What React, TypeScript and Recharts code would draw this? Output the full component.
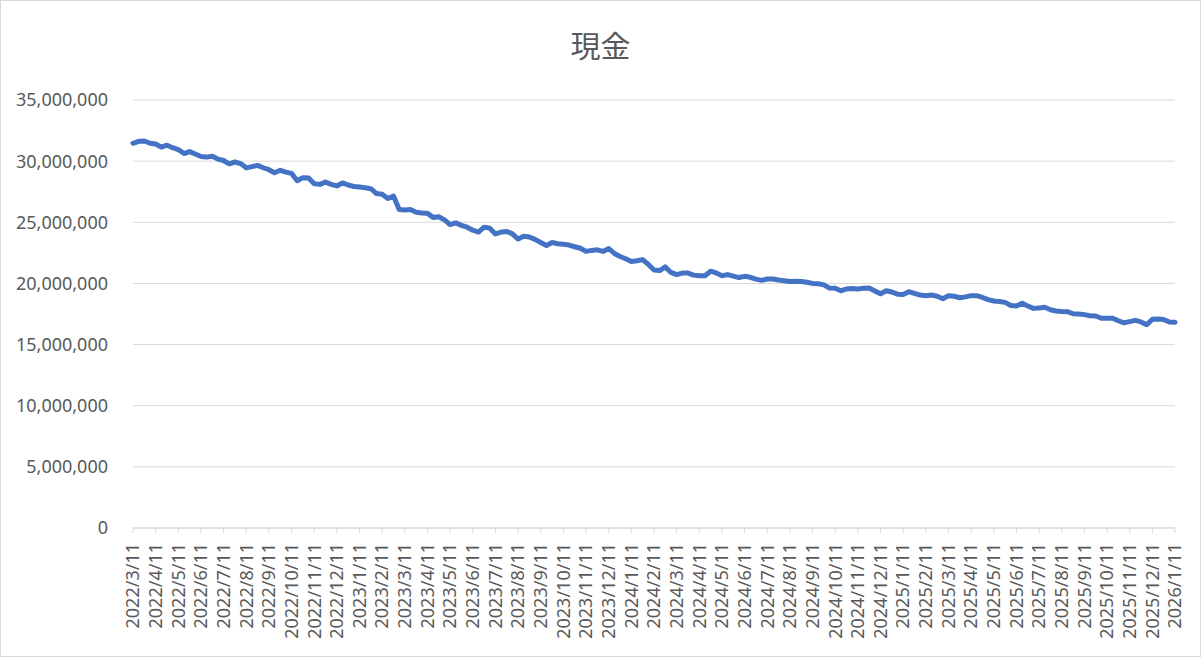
import { CartesianGrid, Line, LineChart, XAxis, YAxis } from "recharts";

// month tick labels on the x axis (2022/3/11 .. 2026/1/11)
const monthLabels = [
  "2022/3/11", "2022/4/11", "2022/5/11", "2022/6/11", "2022/7/11", "2022/8/11",
  "2022/9/11", "2022/10/11", "2022/11/11", "2022/12/11",
  "2023/1/11", "2023/2/11", "2023/3/11", "2023/4/11", "2023/5/11", "2023/6/11",
  "2023/7/11", "2023/8/11", "2023/9/11", "2023/10/11", "2023/11/11", "2023/12/11",
  "2024/1/11", "2024/2/11", "2024/3/11", "2024/4/11", "2024/5/11", "2024/6/11",
  "2024/7/11", "2024/8/11", "2024/9/11", "2024/10/11", "2024/11/11", "2024/12/11",
  "2025/1/11", "2025/2/11", "2025/3/11", "2025/4/11", "2025/5/11", "2025/6/11",
  "2025/7/11", "2025/8/11", "2025/9/11", "2025/10/11", "2025/11/11", "2025/12/11",
  "2026/1/11",
];

// weekly cash balance, millions of yen (4 readings per month)
const cash2022 = [
  31.46, 31.62, 31.65, 31.46, 31.4, 31.15, 31.3, 31.1, 30.95, 30.62,
  30.78, 30.58, 30.38, 30.33, 30.4, 30.17, 30.05, 29.78, 29.93, 29.8,
  29.45, 29.55, 29.65, 29.46, 29.3, 29.05, 29.25, 29.1, 29.0, 28.4,
  28.65, 28.62, 28.15, 28.1, 28.3, 28.1, 27.97, 28.22, 28.05, 27.93,
];
const cash2023 = [
  27.88, 27.82, 27.75, 27.35, 27.3, 26.95, 27.15, 26.05, 26.0, 26.05,
  25.82, 25.76, 25.73, 25.4, 25.45, 25.2, 24.8, 24.95, 24.75, 24.6,
  24.35, 24.2, 24.6, 24.52, 24.05, 24.2, 24.25, 24.05, 23.63, 23.85,
  23.8, 23.6, 23.35, 23.1, 23.35, 23.25, 23.2, 23.14, 23.0, 22.88,
  22.62, 22.7, 22.75, 22.62, 22.85, 22.45, 22.2, 22.02,
];
const cash2024 = [
  21.8, 21.85, 21.95, 21.55, 21.1, 21.05, 21.35, 20.9, 20.72, 20.85,
  20.85, 20.68, 20.63, 20.63, 21.0, 20.86, 20.63, 20.72, 20.6, 20.48,
  20.58, 20.5, 20.35, 20.25, 20.36, 20.36, 20.28, 20.22, 20.15, 20.18,
  20.15, 20.1, 20.0, 19.97, 19.88, 19.62, 19.6, 19.4, 19.55, 19.58,
  19.55, 19.6, 19.62, 19.38, 19.15, 19.4, 19.3, 19.12,
];
const cash2025 = [
  19.1, 19.32, 19.18, 19.05, 19.0, 19.05, 18.95, 18.75, 19.0, 18.95,
  18.83, 18.9, 19.0, 19.0, 18.85, 18.68, 18.56, 18.52, 18.45, 18.2,
  18.15, 18.37, 18.15, 17.96, 18.0, 18.05, 17.85, 17.75, 17.7, 17.69,
  17.52, 17.5, 17.45, 17.36, 17.34, 17.15, 17.15, 17.15, 16.95, 16.78,
  16.88, 16.98, 16.85, 16.62, 17.07, 17.1, 17.05, 16.85,
];
const cash2026 = [16.82];

const yTicks = [0, 5000000, 10000000, 15000000, 20000000, 25000000, 30000000, 35000000];

const cash = [...cash2022, ...cash2023, ...cash2024, ...cash2025, ...cash2026];
const data = cash.map((v, i) => ({ t: i / 4, value: Math.round(v * 1000000) }));
const monthTicks = monthLabels.map((_, i) => i);

const FONT = "'Noto Sans', sans-serif";

function DateTick(props: any) {
  const { x, y, payload } = props;
  return (
    <text
      x={x}
      y={y}
      dy="0.35em"
      textAnchor="end"
      transform={`rotate(-90, ${x}, ${y})`}
      fill="#595959"
      fontSize={18}
      fontFamily={FONT}
    >
      {monthLabels[payload.value]}
    </text>
  );
}

export default function App() {
  return (
    <div
      style={{
        position: "absolute",
        left: 0,
        top: 0,
        width: 1201,
        height: 657,
        boxSizing: "border-box",
        border: "1px solid #d9d9d9",
        background: "#fff",
      }}
    >
      <div
        style={{
          position: "absolute",
          top: 24,
          left: 0,
          width: "100%",
          textAlign: "center",
          fontFamily: "'Noto Sans CJK JP', sans-serif",
          fontSize: 30,
          lineHeight: "38px",
          color: "#595959",
        }}
      >
        現金
      </div>
      <div style={{ position: "absolute", left: -1, top: -1 }}>
        <LineChart width={1201} height={657} data={data} margin={{ top: 100, right: 26, bottom: 0, left: 0 }}>
          <CartesianGrid stroke="#d9d9d9" vertical={false} />
          <XAxis
            dataKey="t"
            type="number"
            domain={[0, 46]}
            ticks={monthTicks}
            interval={0}
            height={129}
            tickSize={5}
            tickMargin={10}
            axisLine={{ stroke: "#d9d9d9" }}
            tickLine={{ stroke: "#d9d9d9" }}
            tick={<DateTick />}
          />
          <YAxis
            domain={[0, 35000000]}
            ticks={yTicks}
            width={133}
            axisLine={false}
            tickLine={false}
            tickSize={0}
            tickMargin={25}
            tick={{ fill: "#595959", fontSize: 18, fontFamily: FONT }}
            tickFormatter={(v: number) => v.toLocaleString("en-US")}
          />
          <Line
            type="linear"
            dataKey="value"
            stroke="#4472c4"
            strokeWidth={5}
            strokeLinejoin="round"
            strokeLinecap="round"
            dot={false}
            activeDot={false}
            isAnimationActive={false}
          />
        </LineChart>
      </div>
    </div>
  );
}
